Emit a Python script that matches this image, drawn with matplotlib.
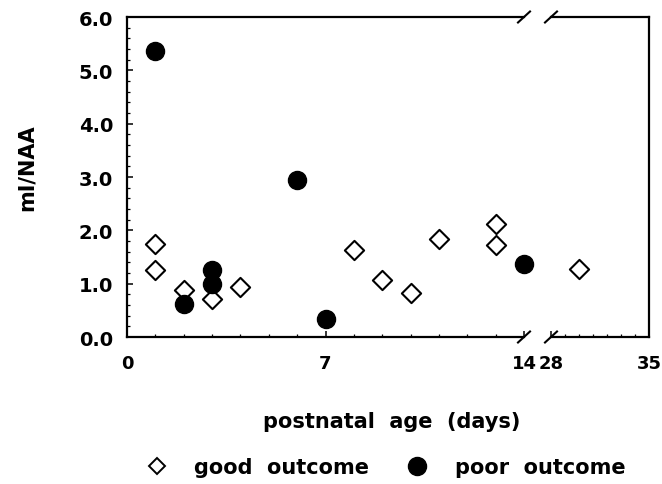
import matplotlib
matplotlib.use('Agg')
import matplotlib.pyplot as plt
from matplotlib.ticker import MultipleLocator, FormatStrFormatter

# mI/NAA ratio against postnatal age, split by outcome
good_day = [1, 1, 2, 3, 4, 8, 9, 10, 11, 13, 13, 30]
good_val = [1.74, 1.26, 0.89, 0.71, 0.94, 1.63, 1.06, 0.82, 1.84, 2.12, 1.73, 1.28]
poor_day = [1, 2, 3, 3, 6, 7, 14]
poor_val = [5.37, 0.62, 1.26, 0.99, 2.95, 0.34, 1.37]

left_range = (0, 14)
right_range = (28, 35)

plt.rcParams['font.family'] = 'DejaVu Sans'
plt.rcParams['font.weight'] = 'bold'

W, H = 662, 485
fig = plt.figure(figsize=(W / 100, H / 100), dpi=100)

# axes boxes in pixels: left panel 127..524, right panel 551..649, y 18..338
def box(x0, x1, y0=18, y1=338):
    return [x0 / W, (H - y1) / H, (x1 - x0) / W, (y1 - y0) / H]

def inside(days, vals, rng):
    pts = [(d, v) for d, v in zip(days, vals) if rng[0] <= d <= rng[1]]
    return [p[0] for p in pts], [p[1] for p in pts]

axL = fig.add_axes(box(127, 524))
axR = fig.add_axes(box(551, 649))

for ax, rng in [(axL, left_range), (axR, right_range)]:
    gx, gy = inside(good_day, good_val, rng)
    px, py = inside(poor_day, poor_val, rng)
    ax.scatter(gx, gy, marker='D', s=9.8**2, facecolor='white',
               edgecolor='black', linewidth=1.5, zorder=3, clip_on=False)
    ax.scatter(px, py, marker='o', s=13**2, color='black',
               zorder=3, clip_on=False)
    ax.set_xlim(*rng)
    ax.set_ylim(0, 6)
    ax.xaxis.set_minor_locator(MultipleLocator(1))
    ax.tick_params(axis='both', which='both', direction='in', top=False, right=False)
    ax.tick_params(which='major', length=4.5, width=1.1)
    ax.tick_params(which='minor', length=2.5, width=0.9)
    ax.tick_params(axis='x', labelsize=13, pad=12)
    for s in ax.spines.values():
        s.set_linewidth(1.6)

axL.set_xticks([0, 7, 14])
axR.set_xticks([28, 35])
axL.spines['right'].set_visible(False)
axR.spines['left'].set_visible(False)
axR.tick_params(axis='y', which='both', left=False, labelleft=False)

axL.yaxis.set_major_locator(MultipleLocator(1))
axL.yaxis.set_minor_locator(MultipleLocator(0.2))
axL.yaxis.set_major_formatter(FormatStrFormatter('%.1f'))
axL.tick_params(axis='y', labelsize=14, pad=10)

# break marks on the axis gap
kw = dict(color='black', lw=1.5, clip_on=False)
dxL, dxR, dy = 6 / 397, 6 / 98, 5.5 / 320
for y in (0, 1):
    axL.plot([1 - dxL, 1 + dxL], [y - dy, y + dy], transform=axL.transAxes, **kw)
    axR.plot([-dxR, dxR], [y - dy, y + dy], transform=axR.transAxes, **kw)

fig.text(27 / W, (H - 168) / H, 'mI/NAA', rotation=90, ha='center', va='center',
         fontsize=15, fontweight='bold')
fig.text(392 / W, (H - 428) / H, 'postnatal  age  (days)', ha='center',
         va='baseline', fontsize=15, fontweight='bold')

hg = plt.Line2D([], [], marker='D', ls='none', ms=8.5, mfc='white',
                mec='black', mew=1.4)
hp = plt.Line2D([], [], marker='o', ls='none', ms=13, color='black')
fig.legend([hg, hp], ['good  outcome', 'poor  outcome'], loc='center',
           bbox_to_anchor=(386 / W, (H - 468) / H), ncol=2, frameon=False,
           prop=dict(size=15, weight='bold'), handlelength=1.0,
           handletextpad=1.3, columnspacing=1.8, borderpad=0)

fig.savefig('out.png', dpi=100)
